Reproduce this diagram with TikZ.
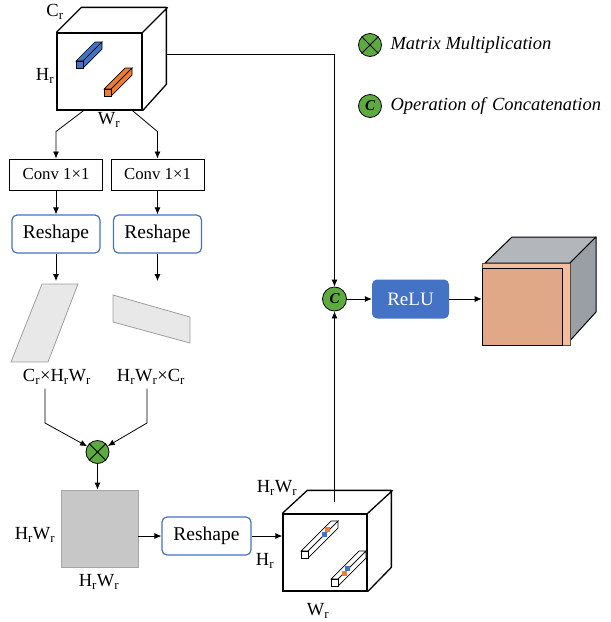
\documentclass[tikz,border=0pt]{standalone}
\usepackage{fontspec}
\setmainfont{Liberation Serif}
\usetikzlibrary{arrows.meta}

\definecolor{reshapeblue}{HTML}{4472C4}
\definecolor{opgreen}{HTML}{5DAA3F}
\definecolor{barorange}{HTML}{ED7D31}
\definecolor{outorange}{HTML}{E0A886}
\definecolor{rimorange}{HTML}{F2BE9E}
\definecolor{cubegray}{HTML}{B3B7BC}
\definecolor{sidegray}{HTML}{9A9FA5}

\newcommand{\rr}{\textsubscript{r}}
% little prism inside a cube: x, y, size, depth, colour
\newcommand{\featbar}[5]{%
    \filldraw[fill=#5, line width=0.7pt] (#1,#2) -- ++(#3,0) -- ++(#4,-#4) -- ++(-#3,0) -- cycle;
    \filldraw[fill=#5, line width=0.7pt] (#1,#2) ++(#3,0) -- ++(#4,-#4) -- ++(0,#3) -- ++(-#4,#4) -- cycle;
    \filldraw[fill=#5, line width=0.7pt] (#1,#2) rectangle ++(#3,#3);}

\begin{document}
\begin{tikzpicture}[x=1pt, y=-1pt]
    \tikzset{flow/.style={-{Latex[length=7pt,width=6pt]}, line width=0.8pt},
        cubeface/.style={draw, line width=1.3pt, inner sep=0pt},
        convbox/.style={draw, line width=0.9pt, minimum width=93pt, minimum height=31pt,
            font=\fontsize{16.8}{18}\selectfont},
        reshapebox/.style={draw=reshapeblue, line width=1.2pt, rounded corners=5pt,
            minimum width=88pt, minimum height=38pt, font=\fontsize{19.5}{21}\selectfont},
        opcircle/.style={circle, draw, fill=opgreen, line width=0.8pt, minimum size=23pt,
            inner sep=0pt, font=\fontsize{15}{15}\selectfont\bfseries\itshape},
        dimlabel/.style={font=\fontsize{18.5}{20}\selectfont, inner sep=1pt},
        legendtext/.style={anchor=west, font=\fontsize{18.5}{20}\selectfont\itshape}}
    \useasboundingbox (0,0) rectangle (611,622);

    % input cube
    \node[cubeface, minimum width=85pt, minimum height=77pt] (inp) at (99.5,71.5) {};
    \draw[line width=1.3pt, line join=round] (inp.north west) -- ++(25,-25) -- ++(85,0)
        -- ++(0,77) -- (inp.south east) (inp.north east) -- ++(25,-25);
    \featbar{76}{61}{7}{19}{reshapeblue}
    \featbar{104}{89}{7}{21}{barorange}
    \node[dimlabel] (cr) at (55,12) {C\rr};
    \node[dimlabel] (hr) at (45,76) {H\rr};
    \node[dimlabel] (wr) at (109,120) {W\rr};
    \coordinate (inpr) at (167,54);

    % two branches
    \node[convbox] (conv1) at (56,174.5) {Conv 1×1};
    \node[convbox] (conv2) at (157.5,174.5) {Conv 1×1};
    \node[reshapebox] (resh1) at (56,234) {Reshape};
    \node[reshapebox] (resh2) at (157.5,234) {Reshape};
    \draw[flow] ([xshift=-16pt]inp.south) -- ([yshift=27pt]conv1.north) -- (conv1.north);
    \draw[flow] ([xshift=33pt]inp.south) -- ([yshift=27pt]conv2.north) -- (conv2.north);
    \draw[flow] (conv1) -- (resh1);
    \draw[flow] (conv2) -- (resh2);
    \coordinate (mat1) at (56,281);
    \coordinate (mat2) at (157.5,281);
    \draw[flow] (resh1) -- (mat1);
    \draw[flow] (resh2) -- (mat2);
    \filldraw[fill=black!9, draw=black!38, line width=0.8pt]
        (42,284) -- (78,284) -- (48,362) -- (11,362) -- cycle;
    \filldraw[fill=black!9, draw=black!38, line width=0.8pt]
        (113,295) -- (190,317) -- (190,343) -- (113,322) -- cycle;
    \node[dimlabel] (lbla) at (57,377) {C\rr×H\rr W\rr};
    \node[dimlabel] (lblb) at (151,377) {H\rr W\rr×C\rr};

    % multiplication
    \node[opcircle] (mult) at (97.5,452) {};
    \draw[line width=0.9pt] (mult.north west) -- (mult.south east)
        (mult.north east) -- (mult.south west);
    \coordinate (benda) at (45,423);
    \coordinate (bendb) at (147,423);
    \draw[flow] ([yshift=-3pt]lbla.south -| benda) -- (benda) -- (mult);
    \draw[flow] ([yshift=-3pt]lblb.south -| bendb) -- (bendb) -- (mult);
    \node[fill=black!22, draw=black!35, line width=0.8pt, minimum size=77pt] (attn) at (99.5,528.5) {};
    \draw[flow] (mult) -- (mult |- attn.north);
    \node[dimlabel] (attnl) at (35,535) {H\rr W\rr};
    \node[dimlabel] (attnb) at (99,582) {H\rr W\rr};
    \node[reshapebox, minimum width=89pt] (resh3) at (206.5,536) {Reshape};
    \draw[flow] (attn.east |- resh3.west) -- (resh3.west);

    % weighted cube
    \node[cubeface, minimum width=84pt, minimum height=77pt] (wcube) at (325,552.5) {};
    \draw[line width=1.3pt, line join=round] (wcube.north west) -- ++(25,-23) -- ++(84,0)
        -- ++(0,77) -- (wcube.south east) (wcube.north east) -- ++(25,-23);
    \featbar{301}{551}{7}{30}{white}
    \featbar{331}{579}{7}{28}{white}
    \fill[barorange] (325,527) rectangle ++(5,5);
    \fill[reshapeblue] (322,532) rectangle ++(5,5);
    \fill[reshapeblue] (345,566) rectangle ++(5,5);
    \fill[barorange] (342,571) rectangle ++(5,5);
    \node[dimlabel] (wtl) at (277,488) {H\rr W\rr};
    \node[dimlabel] (whl) at (265,561) {H\rr};
    \node[dimlabel] (wwl) at (318,611) {W\rr};
    \draw[flow] (resh3.east) -- (resh3.east -| wcube.west);
    \coordinate (wtop) at (334.5,502);

    % concatenation and output
    \node[opcircle, minimum size=24pt] (concat) at (334.5,299) {C};
    \draw[flow] (inpr) -| (concat);
    \draw[flow] (wtop) -- (concat);
    \node[fill=reshapeblue, rounded corners=5pt, minimum width=77pt, minimum height=39pt,
        text=white, font=\fontsize{19}{20}\selectfont] (relu) at (410.5,299) {ReLU};
    \draw[flow] (concat) -- (relu);
    \filldraw[fill=cubegray, line width=1pt, line join=round]
        (485,263) -- (512,237) -- (596,237) -- (570,263) -- cycle;
    \filldraw[fill=sidegray, line width=1pt, line join=round]
        (570,263) -- (596,237) -- (596,312) -- (566,345) -- cycle;
    \node[fill=rimorange, draw=black!70, line width=0.6pt, minimum width=88pt, minimum height=82pt,
        inner sep=0pt] (outc) at (526,304) {};
    \filldraw[fill=outorange, line width=1pt] (482,268) rectangle (562,345);
    \draw[flow] (relu) -- (relu -| outc.west);

    % legend
    \node[opcircle] (legm) at (370,45) {};
    \draw[line width=0.9pt] (legm.north west) -- (legm.south east)
        (legm.north east) -- (legm.south west);
    \node[legendtext] (legmt) at (387,45) {Matrix Multiplication};
    \node[opcircle] (legc) at (370,106) {C};
    \node[legendtext] (legct) at (387,106) {Operation of\hspace{0.35em}Concatenation};
\end{tikzpicture}
\end{document}
